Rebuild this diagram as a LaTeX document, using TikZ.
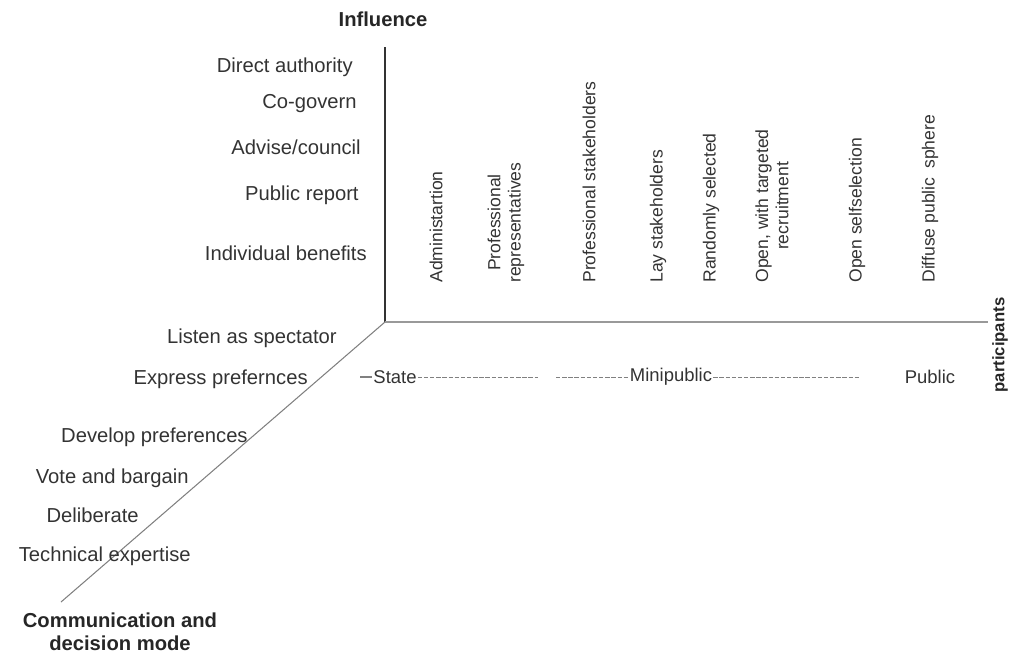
\documentclass[tikz,border=0pt]{standalone}
\usepackage{fontspec}
\setmainfont{Liberation Sans}
\tikzset{lbl/.style={anchor=east, text=black!80, font=\fontsize{11.5}{13}\selectfont, inner sep=0pt}}
\tikzset{vlbl/.style={rotate=90, anchor=west, align=center, text=black!80, font=\fontsize{10}{11.5}\selectfont, inner sep=0pt}}
\tikzset{ttl/.style={text=black!85, font=\bfseries\fontsize{11.5}{13}\selectfont, align=center, inner sep=0pt}}
\tikzset{grp/.style={text=black!80, font=\fontsize{10.5}{12}\selectfont, inner sep=0.5pt}}
\tikzset{grpline/.style={gray, line width=0.5pt, dash pattern=on 2.5pt off 1pt}}

\begin{document}
\begin{tikzpicture}[x=0.02cm, y=-0.02cm]
\useasboundingbox (0,0) rectangle (1011,656);

% axes
\coordinate (o) at (385,322);
\coordinate (ytop) at (385,47);
\coordinate (xend) at (988,322);
\coordinate (zend) at (61,602);
\draw[black!80, line width=0.9pt] (o) -- (ytop);
\draw[gray!80, line width=1.3pt] (o) -- (xend);
\draw[gray, line width=0.6pt] (o) -- (zend);

\node[ttl] (infl) at (383,19) {Influence};
\node[ttl, rotate=90, font=\bfseries\fontsize{9.5}{11}\selectfont] (part) at (1000,345) {participants};
\node[ttl] (comm) at (120,632) {Communication and\\decision mode};

% influence
\node[lbl] (da) at (353,67) {Direct authority};
\node[lbl] (cg) at (357,104) {Co-govern};
\node[lbl] (ac) at (361,147) {Advise/council};
\node[lbl] (pr) at (359,195) {Public report};
\node[lbl] (ib) at (367,253) {Individual benefits};

% participants
\node[vlbl] (adm) at (436,283) {Administartion};
\node[vlbl] (prep) at (506,283) {Professional\\representatives};
\node[vlbl] (pst) at (589,283) {Professional stakeholders};
\node[vlbl] (lst) at (658,283) {Lay stakeholders};
\node[vlbl] (rnd) at (711,283) {Randomly selected};
\node[vlbl] (otr) at (772,283) {Open, with targeted\\recruitment};
\node[vlbl] (oss) at (857,283) {Open selfselection};
\node[vlbl] (dps) at (930,283) {Diffuse public\enspace sphere};

% communication
\node[lbl] (las) at (337,338) {Listen as spectator};
\node[lbl] (ep) at (308,379) {Express prefernces};
\node[lbl] (dp) at (248,437) {Develop preferences};
\node[lbl] (vb) at (189,478) {Vote and bargain};
\node[lbl] (del) at (139,515) {Deliberate};
\node[lbl] (te) at (191,556) {Technical expertise};

% groups
\node[grp] (state) at (395,377) {State};
\coordinate (stL) at (360,377);
\coordinate (stR) at (538,377);
\draw[gray, line width=0.6pt] (stL) -- (state);
\draw[grpline] (state) -- (stR);
\node[grp] (mini) at (671,377) {Minipublic};
\coordinate (miL) at (556,377);
\coordinate (miR) at (860,377);
\draw[grpline] (miL) -- (mini);
\draw[grpline] (mini) -- (miR);
\node[grp] (pub) at (930,377) {Public};

\end{tikzpicture}
\end{document}
